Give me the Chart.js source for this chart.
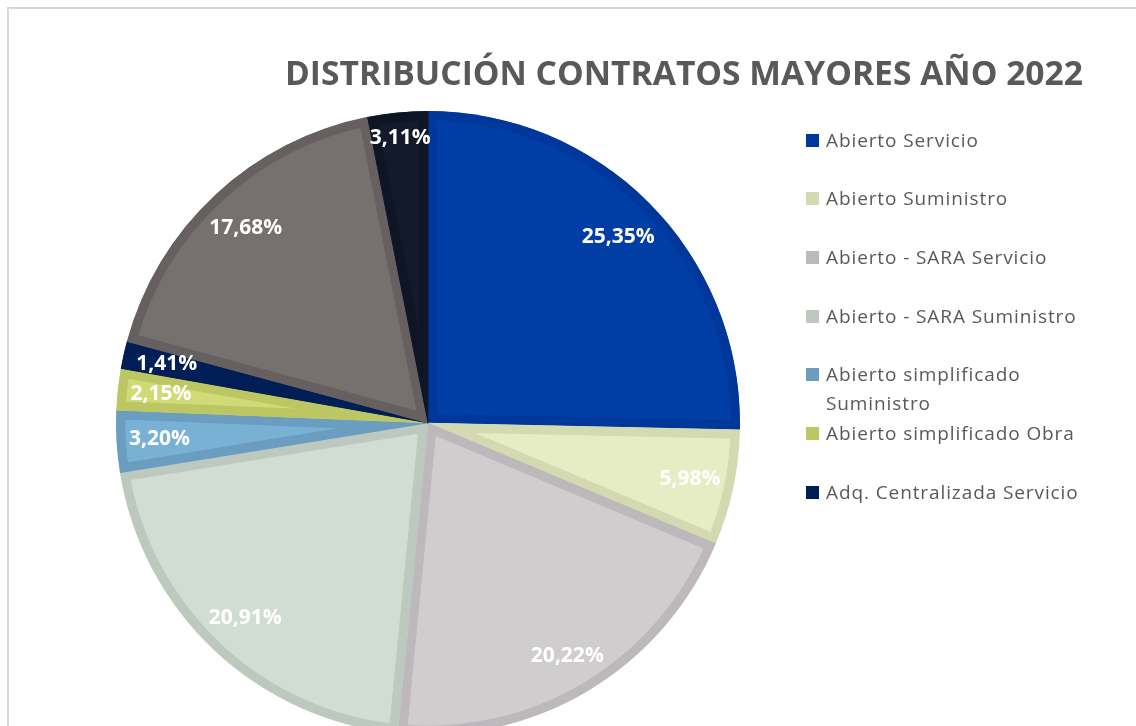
<!DOCTYPE html>
<html>
<head>
<meta charset="utf-8">
<script src="https://cdn.jsdelivr.net/npm/chart.js@4.4.1/dist/chart.umd.min.js"></script>
<style>
    html, body { margin: 0; padding: 0; background: #fff; overflow: hidden; width: 1136px; height: 726px; }
    #frame { position: absolute; left: 7px; top: 7px; width: 1300px; height: 900px; border: 2px solid #d9d9d9; box-sizing: border-box; }
    #wrap { position: absolute; left: 0; top: 0; width: 1136px; height: 735px; }
    #legend { position: absolute; left: 806px; top: 0; font-family: 'Open Sans', sans-serif; font-size: 19px; letter-spacing: 0.9px; color: #595959; }
    .item { position: absolute; left: 0; white-space: nowrap; line-height: 29px; }
    .item .sw { position: absolute; left: 0; top: 8px; width: 13px; height: 13px; }
    .item .tx { position: absolute; left: 20px; top: 0; }
</style>
</head>
<body>
<div id="frame"></div>
<div id="wrap"><canvas id="chart" width="1136" height="735"></canvas></div>
<div id="legend"></div>

<script>
const titleText = 'DISTRIBUCIÓN CONTRATOS MAYORES AÑO 2022';

const categories = [
    'Abierto Servicio',
    'Abierto Suministro',
    'Abierto - SARA Servicio',
    'Abierto - SARA Suministro',
    'Abierto simplificado Suministro',
    'Abierto simplificado Obra',
    'Adq. Centralizada Servicio',
    'Otros',
    'Otros 2'
];

const shares = [25.35, 5.98, 20.22, 20.91, 3.20, 2.15, 1.41, 17.68, 3.11];

// only the first seven categories show up in the legend
const legendCount = 7;

const fillColors = ['#003da5', '#e6edc5', '#d0cdcf', '#d1dcd3', '#79b1d4', '#cfdb76', '#00215c', '#76706e', '#121a2b'];
const edgeColors = ['#00379a', '#d3d9b0', '#bcb8bb', '#bdc8be', '#6a9dbf', '#bcc663', '#001e55', '#666060', '#0e1524'];

const fmt = v => v.toFixed(2).replace('.', ',') + '%';

// title + percentage labels drawn on the canvas
const overlay = {
    id: 'overlay',
    afterDatasetsDraw(chart) {
        const ctx = chart.ctx;
        const meta = chart.getDatasetMeta(0);

        ctx.save();
        ctx.fillStyle = '#ffffff';
        ctx.font = 'bold 21px "Open Sans"';
        ctx.textAlign = 'center';
        ctx.textBaseline = 'middle';
        meta.data.forEach((arc, i) => {
            const p = arc.getProps(['x', 'y', 'startAngle', 'endAngle', 'outerRadius'], true);
            const mid = (p.startAngle + p.endAngle) / 2;
            const txt = fmt(shares[i]);
            // keep the label box inside the slice end, like "inside end"
            const w = ctx.measureText(txt).width;
            const half = Math.abs(Math.cos(mid)) * w / 2 + Math.abs(Math.sin(mid)) * 11;
            const r = p.outerRadius - 12 - half;
            ctx.fillText(txt, p.x + Math.cos(mid) * r, p.y + Math.sin(mid) * r);
        });
        ctx.restore();

        ctx.save();
        ctx.fillStyle = '#595959';
        ctx.font = 'bold 34px "Open Sans"';
        ctx.textBaseline = 'alphabetic';
        const target = 798;
        const w = ctx.measureText(titleText).width;
        if (w > target) {
            ctx.translate(285, 85);
            ctx.scale(target / w, 1);
            ctx.fillText(titleText, 0, 0);
        } else {
            ctx.letterSpacing = ((target - w) / (titleText.length - 1)) + 'px';
            ctx.fillText(titleText, 285, 85);
        }
        ctx.restore();
    }
};

new Chart(document.getElementById('chart'), {
    type: 'pie',
    data: {
        labels: categories,
        datasets: [{
            data: shares,
            backgroundColor: fillColors,
            borderColor: edgeColors,
            borderWidth: 9,
            borderAlign: 'inner',
            hoverOffset: 0
        }]
    },
    options: {
        responsive: false,
        animation: false,
        radius: 312,
        layout: { padding: { left: 116, top: 111, right: 396, bottom: 0 } },
        plugins: {
            legend: { display: false },
            tooltip: { enabled: false }
        }
    },
    plugins: [overlay]
});

// legend (html, text wraps like the original)
const legend = document.getElementById('legend');
categories.slice(0, legendCount).forEach((name, i) => {
    const item = document.createElement('div');
    item.className = 'item';
    item.style.top = (140 + i * 58.7 - 14.5) + 'px';
    const text = name === 'Abierto simplificado Suministro'
        ? 'Abierto simplificado<br>Suministro' : name;
    item.innerHTML = `<span class="sw" style="background:${edgeColors[i]}"></span><span class="tx">${text}</span>`;
    legend.appendChild(item);
});
</script>
</body>
</html>
